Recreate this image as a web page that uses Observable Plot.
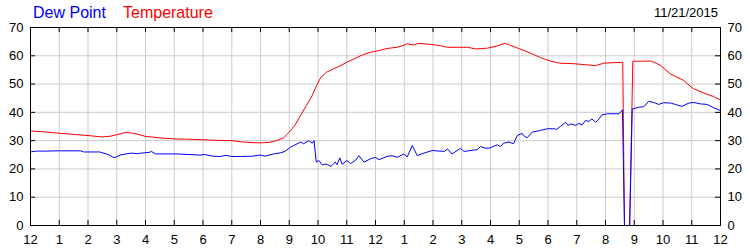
<!DOCTYPE html>
<html><head><meta charset="utf-8">
<script src="https://cdn.jsdelivr.net/npm/d3@7"></script>
<script src="https://cdn.jsdelivr.net/npm/@observablehq/plot@0.6"></script>
<style>body{margin:0;background:#fff}</style>
</head><body><div id="chart"></div>
<script>
const seriesNames = ["Dew Point", "Temperature"];
const dateLabel = "11/21/2015";
const tempHours = [0,0.5,1,1.5,2,2.5,2.8,3,3.3,3.6,4,4.5,5,5.5,6,6.5,7,7.3,7.7,8,8.3,8.6,8.8,9,9.2,9.4,9.6,9.8,9.95,10.1,10.3,10.5,10.8,11,11.25,11.5,11.8,12.1,12.4,12.75,13,13.1,13.3,13.5,13.85,14.25,14.5,15.2,15.5,15.9,16.2,16.5,16.7,17,17.4,17.75,18.1,18.4,18.9,19.35,19.65,19.95,20.6,20.66,20.84,20.95,21.6,21.9,22.25,22.7,23.05,23.4,23.75,24];
const tempValues = [33.4,33.1,32.6,32.2,31.8,31.3,31.6,32.1,32.9,32.6,31.5,31.0,30.6,30.5,30.3,30.1,30.0,29.6,29.3,29.2,29.4,30.1,31.0,33.0,35.5,39.0,42.5,46.0,49.5,52.4,54.2,55.2,56.6,57.7,58.9,60.1,61.2,61.8,62.6,63.0,63.8,64.3,63.8,64.4,64.1,63.6,63.0,63.0,62.4,62.7,63.4,64.4,63.7,62.5,60.9,59.3,58.1,57.4,57.2,56.8,56.5,57.4,57.7,0,0,58.1,58.1,56.7,53.6,51.4,48.4,46.9,45.6,44.4];
const dewHours = [0,0.2,0.5,1,1.75,1.85,2.4,2.7,2.9,3,3.15,3.5,3.7,4.15,4.2,4.35,5.1,5.9,6.05,6.35,6.6,6.8,7,7.3,7.7,8,8.15,8.45,8.7,8.85,9.05,9.2,9.4,9.5,9.68,9.8,9.86,9.94,10.03,10.15,10.25,10.32,10.45,10.6,10.66,10.76,10.84,11,11.13,11.3,11.42,11.6,11.83,12,12.12,12.4,12.58,12.75,13,13.1,13.28,13.45,13.6,13.97,14.4,14.5,14.66,14.96,15.08,15.54,15.65,15.8,15.95,16.23,16.35,16.45,16.64,16.8,16.93,17.1,17.15,17.27,17.45,17.74,17.97,18.2,18.3,18.43,18.61,18.7,18.8,18.96,19.07,19.19,19.3,19.42,19.53,19.65,19.73,19.88,20.06,20.47,20.59,20.66,20.84,20.93,21.16,21.33,21.5,21.68,21.85,22.02,22.26,22.43,22.66,22.9,23.07,23.3,23.54,23.77,24];
const dewValues = [26.0,26.3,26.3,26.4,26.4,26.0,26.0,25.1,24.0,24.3,25.0,25.6,25.4,25.9,26.2,25.3,25.3,24.9,25.1,24.5,24.4,24.8,24.4,24.4,24.5,24.9,24.5,25.3,25.7,26.2,27.7,28.5,29.5,28.9,30.0,29.1,30.0,22.4,23.0,21.4,21.7,21.6,20.9,22.4,21.5,23.9,21.6,23.0,21.9,23.0,24.7,22.4,23.6,24.1,23.3,24.4,24.7,24.1,25.3,24.2,28.3,24.7,25.3,26.5,26.2,27.1,25.3,27.3,26.2,26.8,27.9,27.4,27.3,28.5,27.9,29.1,29.5,28.9,31.8,32.6,31.8,31.0,33.0,33.6,34.2,34.2,34.0,35.0,36.5,35.4,35.9,35.4,36.1,35.6,37.1,36.8,37.7,36.5,37.1,39.1,39.5,39.5,40.9,0,0,41.2,41.8,42.0,43.9,43.5,42.8,43.4,43.3,42.8,42.1,43.3,43.5,43.0,42.8,41.6,40.6];
const xTicks = [0,1,2,3,4,5,6,7,8,9,10,11,12,13,14,15,16,17,18,19,20,21,22,23,24];
const xTickLabels = ["12","1","2","3","4","5","6","7","8","9","10","11","12","1","2","3","4","5","6","7","8","9","10","11","12"];
const yTicks = [0,10,20,30,40,50,60,70];

const temp = tempHours.map((h, i) => ({h, v: tempValues[i]}));
const dew = dewHours.map((h, i) => ({h, v: dewValues[i]}));

const W = 750, H = 250, mL = 30, mR = 30, mT = 27, mB = 25;
const innerW = W - mL - mR, innerH = H - mT - mB;
const font = "'Liberation Sans', Arial, sans-serif";

const svg = Plot.plot({
  width: W, height: H,
  marginLeft: mL, marginRight: mR, marginTop: mT, marginBottom: mB,
  style: {fontFamily: font, fontSize: "13px", color: "#000", background: "#fff", overflow: "visible"},
  x: {domain: [0, 24]},
  y: {domain: [0, 70]},
  marks: [
    Plot.gridX(xTicks, {stroke: "#cccccc", strokeOpacity: 1}),
    Plot.gridY(yTicks, {stroke: "#cccccc", strokeOpacity: 1}),
    Plot.line(temp, {x: "h", y: "v", stroke: "#ff0000", strokeWidth: 1}),
    Plot.line(dew, {x: "h", y: "v", stroke: "#0000ff", strokeWidth: 1}),
    Plot.frame({stroke: "#000"}),
    Plot.ruleX(xTicks, {insetTop: innerH - 5, stroke: "#000"}),
    Plot.ruleX(xTicks, {insetBottom: innerH - 5, stroke: "#000"}),
    Plot.ruleY(yTicks, {insetRight: innerW - 5, stroke: "#000"}),
    Plot.ruleY(yTicks, {insetLeft: innerW - 5, stroke: "#000"}),
    Plot.axisX(xTicks, {anchor: "bottom", tickSize: 0, tickPadding: 9, tickFormat: d => xTickLabels[xTicks.indexOf(d)], label: null}),
    Plot.axisY(yTicks, {anchor: "left", tickSize: 0, tickPadding: 7, label: null}),
    Plot.axisY(yTicks, {anchor: "right", tickSize: 0, tickPadding: 7, label: null})
  ]
});

const s = d3.select(svg);
s.append("text").attr("x", 33).attr("y", 18).attr("text-anchor", "start").attr("fill", "#0000ff")
  .style("font-size", "16px").style("font-family", font).text(seriesNames[0]);
s.append("text").attr("x", 123).attr("y", 18).attr("text-anchor", "start").attr("fill", "#ff0000")
  .style("font-size", "16px").style("font-family", font).text(seriesNames[1]);
s.append("text").attr("x", 718).attr("y", 17).attr("text-anchor", "end").attr("fill", "#000")
  .style("font-size", "13px").style("font-family", font).text(dateLabel);

document.getElementById("chart").appendChild(svg);
</script>
</body></html>
